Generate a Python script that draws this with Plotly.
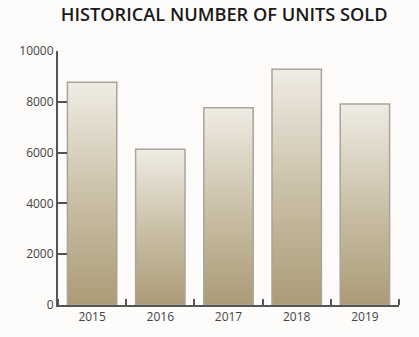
import plotly.graph_objects as go

years = ["2015", "2016", "2017", "2018", "2019"]
units = [8770, 6130, 7770, 9280, 7910]
y_ticks = [0, 2000, 4000, 6000, 8000, 10000]
y_tick_labels = ["0", "2000", "4000", "6000", "8000", "10000"]

title_text = "HISTORICAL NUMBER OF UNITS SOLD"

half_w = 0.362
fig = go.Figure()
for i, v in enumerate(units):
    xs = [i - half_w, i - half_w, i + half_w, i + half_w, i - half_w]
    ys = [0, v, v, 0, 0]
    fig.add_trace(go.Scatter(
        x=xs, y=ys, mode="lines", fill="toself",
        fillgradient=dict(type="vertical",
                          colorscale=[[0, "#ab9c77"], [0.5, "#cbc1a9"], [1, "#f0ece4"]]),
        line=dict(color="#a9a49b", width=1.5),
        hoverinfo="skip", showlegend=False,
    ))

fig.update_layout(
    width=419, height=337,
    margin=dict(l=58, r=20, t=51, b=31.5),
    paper_bgcolor="#fdfcfa", plot_bgcolor="rgba(0,0,0,0)",
    title=dict(text=title_text, x=0.535, xanchor="center", y=1 - 15 / 337,
               yref="container", yanchor="middle",
               font=dict(family="Open Sans", size=18.2, weight=600, color="#1a1a1a")),
    font=dict(family="Open Sans", size=12, color="#444444"),
)
fig.update_xaxes(
    range=[-0.5, 4.5], tickmode="array", tickvals=list(range(len(years))), ticktext=years,
    ticks="", showgrid=False, zeroline=False, showline=True, linecolor="#555555", linewidth=2,
    minor=dict(tickmode="linear", tick0=-0.5, dtick=1, ticks="inside", ticklen=6,
               tickcolor="#555555", tickwidth=2, showgrid=False),
    tickfont=dict(size=12, color="#444444"), fixedrange=True,
)
fig.update_yaxes(
    range=[0, 10000], tickmode="array", tickvals=y_ticks, ticktext=y_tick_labels,
    ticks="inside", ticklen=9, tickwidth=2, tickcolor="#555555",
    showgrid=False, zeroline=False, showline=True, linecolor="#555555", linewidth=2,
    tickfont=dict(size=12, color="#444444"), fixedrange=True,
)
fig.write_html("out.html")
